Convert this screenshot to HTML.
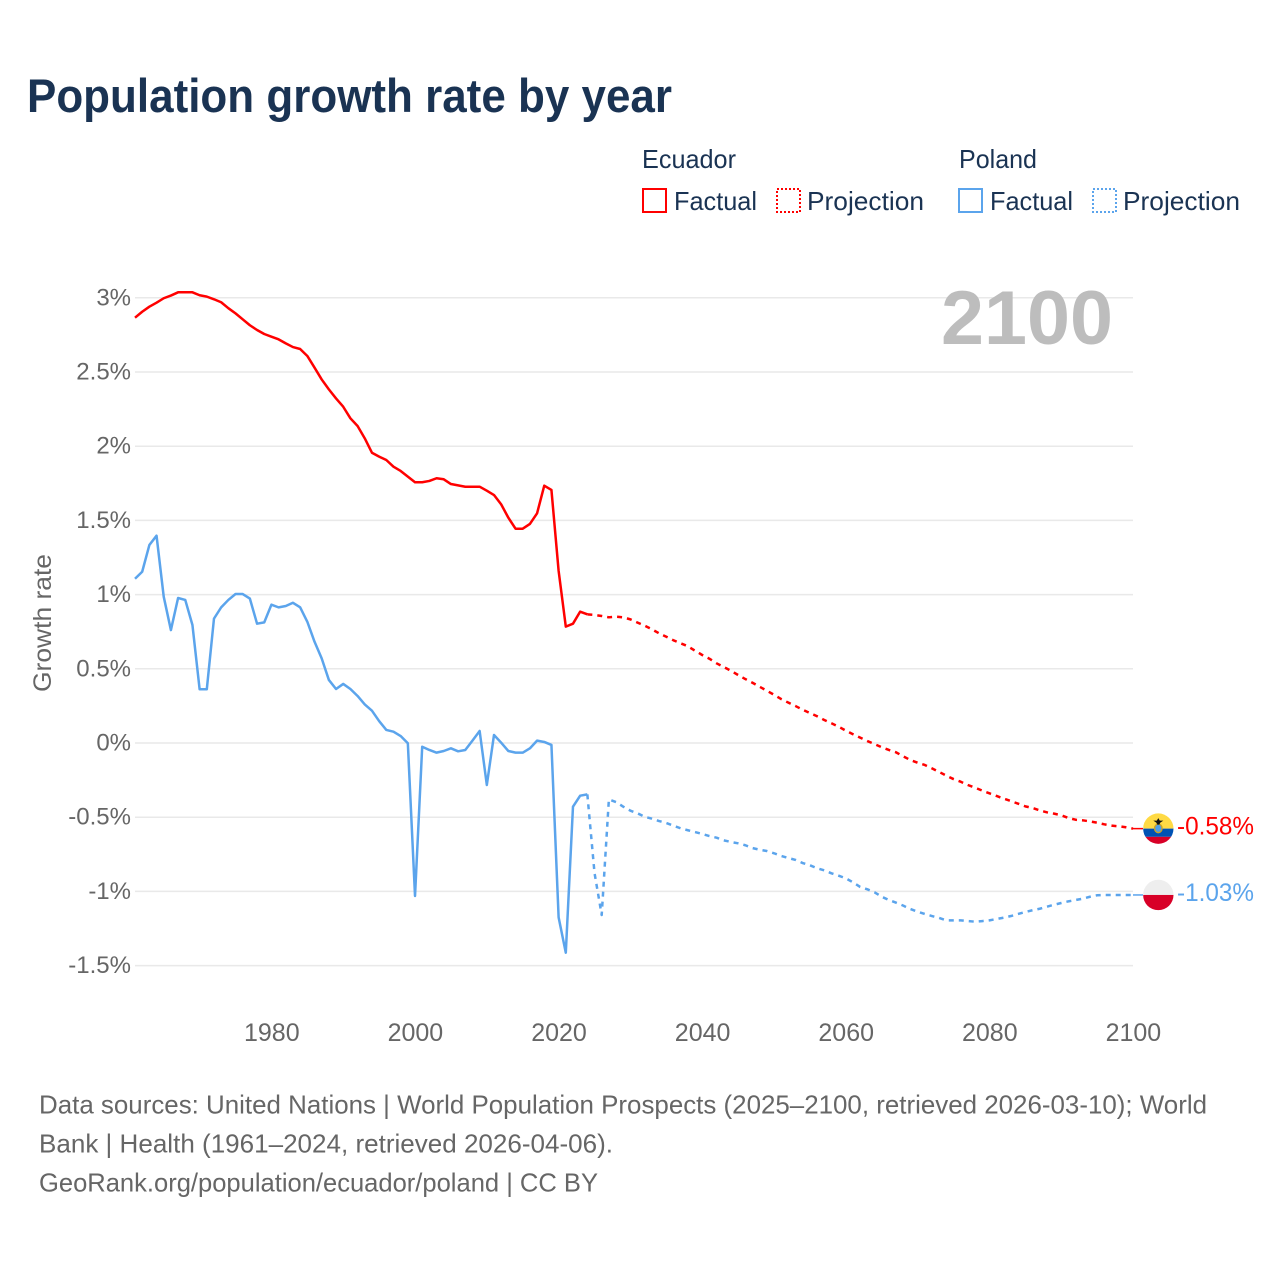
<!DOCTYPE html>
<html lang="en">
<head>
<meta charset="utf-8">
<title>Population growth rate by year</title>
<style>
  html, body { margin: 0; padding: 0; background: #fff; }
  svg { display: block; }
  text { font-family: "Liberation Sans", sans-serif; }
</style>
</head>
<body>
<svg id="chart" xmlns="http://www.w3.org/2000/svg" width="1280" height="1280" viewBox="0 0 1280 1280">
  <rect x="0" y="0" width="1280" height="1280" fill="#ffffff"/>
  <text x="27" y="112" font-size="47" font-weight="700" fill="#1a3353" textLength="645" lengthAdjust="spacingAndGlyphs">Population growth rate by year</text>

  <g font-size="26" fill="#1a3353">
    <text x="642" y="168" textLength="94" lengthAdjust="spacingAndGlyphs">Ecuador</text>
    <text x="959" y="168" textLength="78" lengthAdjust="spacingAndGlyphs">Poland</text>
    <rect x="643" y="189" width="23" height="23" fill="none" stroke="#ff0000" stroke-width="2"/>
    <text x="674" y="210" textLength="83" lengthAdjust="spacingAndGlyphs">Factual</text>
    <rect x="777" y="189" width="23" height="23" fill="none" stroke="#ff0000" stroke-width="2" stroke-dasharray="2 2"/>
    <text x="807" y="210" textLength="117" lengthAdjust="spacingAndGlyphs">Projection</text>
    <rect x="959" y="189" width="23" height="23" fill="none" stroke="#5ba4ec" stroke-width="2"/>
    <text x="990" y="210" textLength="83" lengthAdjust="spacingAndGlyphs">Factual</text>
    <rect x="1093" y="189" width="23" height="23" fill="none" stroke="#5ba4ec" stroke-width="2" stroke-dasharray="2 2"/>
    <text x="1123" y="210" textLength="117" lengthAdjust="spacingAndGlyphs">Projection</text>
  </g>

  <g id="grid"></g>
  <g id="y-ticks" font-size="24" fill="#666666" text-anchor="end"></g>
  <g id="x-ticks" font-size="25" fill="#666666" text-anchor="middle"></g>
  <text transform="translate(51 692) rotate(-90)" font-size="25" fill="#666666" textLength="138" lengthAdjust="spacingAndGlyphs">Growth rate</text>
  <text x="941" y="344" font-size="76" font-weight="700" fill="#bdbdbd" textLength="172" lengthAdjust="spacingAndGlyphs">2100</text>

  <g id="series"></g>
  <g id="end-markers"></g>

  <g font-size="26" fill="#666666">
    <text x="39" y="1113.5" textLength="1168" lengthAdjust="spacingAndGlyphs">Data sources: United Nations | World Population Prospects (2025–2100, retrieved 2026-03-10); World</text>
    <text x="39" y="1152.5" textLength="574" lengthAdjust="spacingAndGlyphs">Bank | Health (1961–2024, retrieved 2026-04-06).</text>
    <text x="39" y="1191.5" textLength="559" lengthAdjust="spacingAndGlyphs">GeoRank.org/population/ecuador/poland | CC BY</text>
  </g>
</svg>

<script>
const yTickValues = [3, 2.5, 2, 1.5, 1, 0.5, 0, -0.5, -1, -1.5];
const yTickLabels = ['3%', '2.5%', '2%', '1.5%', '1%', '0.5%', '0%', '-0.5%', '-1%', '-1.5%'];
const xTickYears = [1980, 2000, 2020, 2040, 2060, 2080, 2100];
const factualStartYear = 1961;
const projectionStartYear = 2024;

const ecuadorFactual = [
  2.866, 2.906, 2.94, 2.967, 2.997, 3.015, 3.037, 3.037, 3.037, 3.017,
  3.008, 2.99, 2.97, 2.93, 2.895, 2.855, 2.815, 2.783, 2.756, 2.738,
  2.72, 2.693, 2.668, 2.655, 2.608, 2.53, 2.45, 2.383, 2.322, 2.266,
  2.188, 2.136, 2.053, 1.956, 1.93, 1.907, 1.862, 1.833, 1.795, 1.757,
  1.757, 1.766, 1.784, 1.777, 1.745, 1.736, 1.727, 1.727, 1.727, 1.70,
  1.671, 1.608, 1.518, 1.444, 1.444, 1.476, 1.548, 1.734, 1.705, 1.16,
  0.784, 0.804, 0.885, 0.867
];
const ecuadorProjection = [
  0.867, 0.863, 0.856, 0.847, 0.851, 0.847, 0.833, 0.811, 0.79, 0.766, 0.739,
  0.716, 0.692, 0.672, 0.652, 0.622, 0.593, 0.568, 0.537, 0.512, 0.487,
  0.458, 0.431, 0.406, 0.379, 0.352, 0.325, 0.296, 0.272, 0.249, 0.224,
  0.202, 0.18, 0.155, 0.133, 0.11, 0.083, 0.059, 0.036, 0.013, -0.007,
  -0.029, -0.047, -0.063, -0.09, -0.115, -0.133, -0.148, -0.171, -0.195, -0.22,
  -0.243, -0.261, -0.283, -0.301, -0.321, -0.339, -0.357, -0.375, -0.391, -0.409,
  -0.427, -0.438, -0.454, -0.467, -0.476, -0.487, -0.505, -0.517, -0.521, -0.528,
  -0.537, -0.548, -0.557, -0.561, -0.568, -0.577
];
const polandFactual = [
  1.107, 1.154, 1.334, 1.397, 0.986, 0.761, 0.977, 0.964, 0.795, 0.362,
  0.362, 0.838, 0.914, 0.964, 1.004, 1.004, 0.973, 0.804, 0.813, 0.932,
  0.914, 0.923, 0.945, 0.914, 0.817, 0.683, 0.57, 0.425, 0.364, 0.398,
  0.364, 0.317, 0.26, 0.218, 0.148, 0.088, 0.076, 0.047, -0.002, -1.031,
  -0.025, -0.047, -0.065, -0.054, -0.036, -0.056, -0.047, 0.016, 0.081, -0.283,
  0.054, 0.002, -0.054, -0.065, -0.065, -0.036, 0.016, 0.007, -0.013, -1.175,
  -1.413, -0.429, -0.355, -0.346
];
const polandProjection = [
  -0.346, -0.876, -1.159, -0.38, -0.398, -0.429, -0.456, -0.474, -0.497, -0.51, -0.526,
  -0.539, -0.557, -0.575, -0.588, -0.6, -0.613, -0.627, -0.638, -0.656, -0.667,
  -0.676, -0.689, -0.708, -0.719, -0.728, -0.743, -0.761, -0.775, -0.788, -0.809,
  -0.824, -0.844, -0.858, -0.878, -0.894, -0.912, -0.939, -0.97, -0.986, -1.006,
  -1.036, -1.058, -1.076, -1.096, -1.119, -1.137, -1.152, -1.166, -1.179, -1.195,
  -1.195, -1.195, -1.2, -1.204, -1.2, -1.195, -1.186, -1.177, -1.166, -1.152,
  -1.139, -1.127, -1.117, -1.103, -1.09, -1.078, -1.067, -1.058, -1.049, -1.036,
  -1.026, -1.024, -1.024, -1.024, -1.024, -1.024
];
const ecuadorEndLabel = '-0.58%';
const polandEndLabel = '-1.03%';

const SVG_NS = 'http://www.w3.org/2000/svg';
const RED = '#ff0000';
const BLUE = '#5ba4ec';

function xScale(year) { return 135 + (year - 1961) * 7.18; }
function yScale(value) { return 743 - value * 148.4; }

function make(tag, attrs, parent) {
  const el = document.createElementNS(SVG_NS, tag);
  Object.keys(attrs).forEach(function (k) { el.setAttribute(k, attrs[k]); });
  parent.appendChild(el);
  return el;
}

function linePath(values, startYear) {
  return values.map(function (v, i) {
    return (i ? 'L' : 'M') + xScale(startYear + i).toFixed(2) + ' ' + yScale(v).toFixed(2);
  }).join(' ');
}

const gridGroup = document.getElementById('grid');
const yTickGroup = document.getElementById('y-ticks');
yTickValues.forEach(function (v, i) {
  const line = make('line', { x1: 135, x2: 1133, y1: yScale(v), y2: yScale(v), stroke: '#e9e9e9', 'stroke-width': 1.5 }, gridGroup);
  
  
  const label = make('text', { x: 131, y: yScale(v) + 7.5 }, yTickGroup);
  
  
  label.textContent = yTickLabels[i];
});

const xTickGroup = document.getElementById('x-ticks');
xTickYears.forEach(function (year) {
  const label = make('text', { x: xScale(year) + 0.4, y: 1041 }, xTickGroup);
  
  
  label.textContent = String(year);
});

const seriesGroup = document.getElementById('series');
function drawSeries(values, startYear, color, dashed, name) {
  const attrs = { d: linePath(values, startYear), fill: 'none', stroke: color, 'stroke-width': 2.5, 'stroke-linejoin': 'round' };
  if (dashed) { attrs['stroke-dasharray'] = '5 5'; }
  const path = make('path', attrs, seriesGroup);
  
  
}
drawSeries(ecuadorFactual, factualStartYear, RED, false, 'ecuador-factual-line');
drawSeries(ecuadorProjection, projectionStartYear, RED, true, 'ecuador-projection-line');
drawSeries(polandFactual, factualStartYear, BLUE, false, 'poland-factual-line');
drawSeries(polandProjection, projectionStartYear, BLUE, true, 'poland-projection-line');

const markerGroup = document.getElementById('end-markers');
const FLAG_X = 1158.3;
const FLAG_R = 15.2;

function drawConnector(cy, color, name) {
  const line = make('line', { x1: 1133, x2: 1143, y1: cy, y2: cy, stroke: color, 'stroke-width': 1.5 }, markerGroup);
  
  
}
function drawEndLabel(cy, text, color, name) {
  const label = make('text', { x: 1177, y: cy + 6, 'font-size': 25, fill: color, textLength: 77, lengthAdjust: 'spacingAndGlyphs' }, markerGroup);
  
  
  label.textContent = text;
}
function band(g, cy, top, height, color) {
  make('rect', { x: FLAG_X - FLAG_R, y: cy + top, width: FLAG_R * 2, height: height, fill: color }, g);
}

const defs = make('defs', {}, markerGroup);
function clipFor(id, cy) {
  const clip = make('clipPath', { id: id }, defs);
  make('circle', { cx: FLAG_X, cy: cy, r: FLAG_R }, clip);
}

const ecY = yScale(ecuadorProjection[ecuadorProjection.length - 1]);
drawConnector(ecY, RED, 'ecuador-end-connector');
clipFor('clip-ec', ecY);
const ecFlag = make('g', { 'clip-path': 'url(#clip-ec)' }, markerGroup);


band(ecFlag, ecY, -16, 16, '#ffda44');
band(ecFlag, ecY, 0, 8.2, '#0052b4');
band(ecFlag, ecY, 8.2, 8, '#d80027');
make('ellipse', { cx: FLAG_X, cy: ecY - 0.3, rx: 4.4, ry: 5, fill: '#c9a227' }, ecFlag);
make('ellipse', { cx: FLAG_X, cy: ecY - 0.3, rx: 3, ry: 3.6, fill: '#4f9fe8' }, ecFlag);
make('path', { d: 'M' + (FLAG_X - 5) + ' ' + (ecY - 8) + 'h10l-3 2l-1 2h-2l-1 -2z M' + (FLAG_X - 1.5) + ' ' + (ecY - 8) + 'l1.5 -2.5l1.5 2.5z', fill: '#111111' }, ecFlag);
drawEndLabel(ecY, ecuadorEndLabel, RED, 'ecuador-end-value');

const plY = yScale(polandProjection[polandProjection.length - 1]);
drawConnector(plY, BLUE, 'poland-end-connector');
clipFor('clip-pl', plY);
const plFlag = make('g', { 'clip-path': 'url(#clip-pl)' }, markerGroup);


band(plFlag, plY, -16, 16, '#eeeeee');
band(plFlag, plY, 0, 16, '#d80027');
drawEndLabel(plY, polandEndLabel, BLUE, 'poland-end-value');
</script>
</body>
</html>
